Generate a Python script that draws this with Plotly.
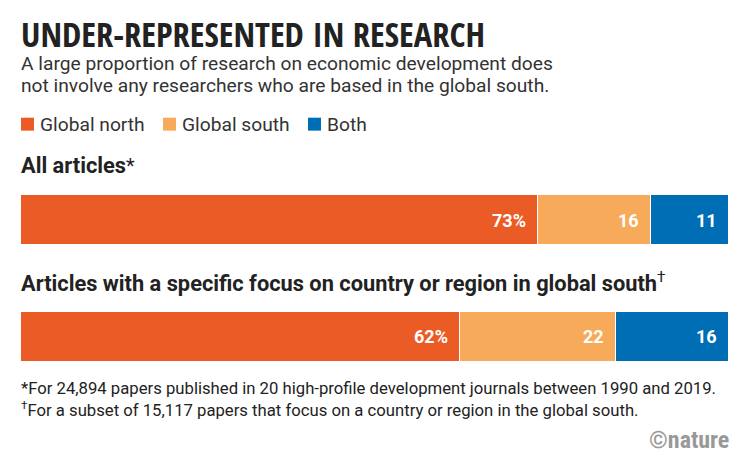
import plotly.graph_objects as go

# data
groups = ["All articles", "Articles with a specific focus on country or region in global south"]
group_marks = ["*", "†"]
series = ["Global north", "Global south", "Both"]
global_north = [73, 62]
global_south = [16, 22]
both = [11, 16]
colors = ["#EA5B25", "#F6AA5A", "#006EB5"]

footnotes = [
    "*For 24,894 papers published in 20 high-profile development journals between 1990 and 2019.",
    "<sup>†</sup>For a subset of 15,117 papers that focus on a country or region in the global south.",
]

W, H = 751, 475
L, R = 21, 729
PT, PB = 161.5, 395.5   # plot area top / bottom in pixels

rows = [1, 0]  # top row first
values = [global_north, global_south, both]

fig = go.Figure()
for name, vals, col in zip(series, values, colors):
    fig.add_trace(go.Bar(
        y=rows, x=vals, name=name, orientation="h", width=0.427,
        marker=dict(color=col, line=dict(color="white", width=1)),
        hoverinfo="skip", showlegend=False,
    ))

# value labels, right aligned inside each segment
for i, r in enumerate(rows):
    cum = 0
    for k, vals in enumerate(values):
        cum += vals[i]
        label = f"{vals[i]}%" if k == 0 else str(vals[i])
        fig.add_annotation(x=cum, y=r, xref="x", yref="y", text=f"<b>{label}</b>",
                           showarrow=False, xanchor="right", xshift=-10,
                           font=dict(family="Roboto", size=18, color="white"))


# pixel -> paper coords (paper = plot area)
def px_x(x):
    return (x - L) / (R - L)


def px_y(y):
    return (PB - y) / (PB - PT)


def note(x, y, s, size, color="#222", family="Roboto", xanchor="left"):
    fig.add_annotation(x=px_x(x), y=px_y(y), xref="paper", yref="paper", text=s,
                       showarrow=False, xanchor=xanchor, yanchor="middle",
                       xshift=-2 if xanchor == "left" else 2,
                       font=dict(family=family, size=size, color=color))


note(21, 32, "<b>UNDER-REPRESENTED IN RESEARCH</b>", 34.5, "#222", "Open Sans Condensed")
note(21, 63, "A large proportion of research on economic development does", 19.2, "#333")
note(21, 85, "not involve any researchers who are based in the global south.", 19.2, "#333")

# legend: swatch + label
legend_x = [21, 163, 308]
for name, col, lx in zip(series, colors, legend_x):
    fig.add_shape(type="rect", xref="paper", yref="paper",
                  x0=px_x(lx), x1=px_x(lx + 13), y0=px_y(130), y1=px_y(117),
                  fillcolor=col, line_width=0)
    note(lx + 19, 124, name, 19.2, "#333")

note(21, 165, f"<b>{groups[0]}</b><span style='font-size:20px'>{group_marks[0]}</span>", 21.8, "#222")
note(21, 282, f"<b>{groups[1]}</b><sup>{group_marks[1]}</sup>", 21.8, "#222")
note(21, 389, footnotes[0], 16.7, "#222")
note(21, 410, footnotes[1], 16.7, "#222")
note(729, 441, "<b>©nature</b>", 24, "#999", "Roboto Condensed", xanchor="right")

fig.update_layout(
    width=W, height=H,
    margin=dict(l=L, r=W - R, t=PT, b=H - PB, pad=0),
    barmode="stack", bargap=0,
    plot_bgcolor="white", paper_bgcolor="white",
    xaxis=dict(range=[0, 100], visible=False, fixedrange=True),
    yaxis=dict(range=[-0.5, 1.5], visible=False, fixedrange=True),
    showlegend=False,
    font=dict(family="Roboto"),
)

fig.write_html("out.html", config={"displayModeBar": False},
               post_script="document.body.style.margin='0';")
